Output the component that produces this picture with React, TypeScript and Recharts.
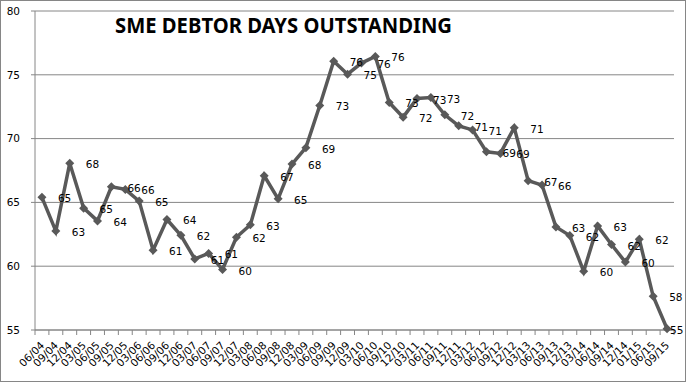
import { LineChart, Line, XAxis, YAxis, CartesianGrid, LabelList } from "recharts";

const quarters = [
  "06/04", "09/04", "12/04",
  "03/05", "06/05", "09/05", "12/05",
  "03/06", "06/06", "09/06", "12/06",
  "03/07", "06/07", "09/07", "12/07",
  "03/08", "06/08", "09/08", "12/08",
  "03/09", "06/09", "09/09", "12/09",
  "03/10", "06/10", "09/10", "12/10",
  "03/11", "06/11", "09/11", "12/11",
  "03/12", "06/12", "09/12", "12/12",
  "03/13", "06/13", "09/13", "12/13",
  "03/14", "06/14", "09/14", "12/14",
  "01/15", "06/15", "09/15",
];

const debtorDays = [
  65.4, 62.75, 68.06, 64.55, 63.55, 66.22, 66.02, 65.1, 61.25, 63.66,
  62.42, 60.57, 61.0, 59.74, 62.27, 63.24, 67.09, 65.28, 68.0, 69.29,
  72.6, 76.07, 75.05, 75.92, 76.44, 72.83, 71.68, 73.14, 73.22, 71.86,
  71.0, 70.68, 68.97, 68.84, 70.86, 66.7, 66.36, 63.08, 62.4, 59.6,
  63.16, 61.7, 60.32, 62.12, 57.64, 55.1,
];

const yTicks = [55, 60, 65, 70, 75, 80];

const data = quarters.map((q, i) => ({ i, q, days: debtorDays[i] }));

const W = 688;
const H = 383;
const margin = { top: 11, right: 14, bottom: 0, left: 0 };
const Y_W = 35;
const X_H = 53;
const band = (W - Y_W - margin.right - margin.left) / quarters.length;

const FONT = "'DejaVu Sans', sans-serif";
const GRID = "#868686";
const LINE = "#595959";

const XTick = ({ x, y, payload }: any) => {
  const i = payload.value;
  const ax = x + 3;
  const ay = y + 16;
  return (
    <g>
      <line x1={x - band / 2} x2={x - band / 2} y1={y} y2={y + 5} stroke={GRID} />
      {i === quarters.length - 1 && (
        <line x1={x + band / 2} x2={x + band / 2} y1={y} y2={y + 5} stroke={GRID} />
      )}
      <text
        x={ax}
        y={ay}
        transform={`rotate(-45, ${ax}, ${ay})`}
        textAnchor="end"
        fontSize={10.5}
        fontFamily={FONT}
        fill="#000"
      >
        {quarters[i]}
      </text>
    </g>
  );
};

const Diamond = ({ cx, cy, index }: any) => {
  const r = 4.5;
  return (
    <polygon
      key={index}
      points={`${cx},${cy - r} ${cx + r},${cy} ${cx},${cy + r} ${cx - r},${cy}`}
      fill={LINE}
    />
  );
};

const ValueLabel = ({ x, y, value }: any) => (
  <text
    x={Math.min(x + 16, 670)}
    y={y + 1}
    dominantBaseline="central"
    fontSize={10.5}
    fontFamily={FONT}
    fill="#000"
  >
    {Math.round(value)}
  </text>
);

export default function App() {
  return (
    <div style={{ position: "absolute", left: 0, top: 0, width: W, height: H, background: "#fff" }}>
      <div
        style={{
          position: "absolute",
          left: 0,
          top: 0,
          width: 686,
          height: 382,
          border: `1px solid ${GRID}`,
          boxSizing: "border-box",
        }}
      />
      <LineChart width={W} height={H} data={data} margin={margin}>
        <CartesianGrid vertical={false} stroke={GRID} />
        <XAxis
          dataKey="i"
          type="number"
          domain={[-0.5, quarters.length - 0.5]}
          ticks={data.map((d) => d.i)}
          interval={0}
          height={X_H}
          tickSize={0}
          tickMargin={0}
          tickLine={false}
          axisLine={{ stroke: GRID }}
          tick={<XTick />}
        />
        <YAxis
          domain={[55, 80]}
          ticks={yTicks}
          width={Y_W}
          tickSize={4}
          tickMargin={11}
          axisLine={{ stroke: GRID }}
          tickLine={{ stroke: GRID }}
          tick={{ fontSize: 10.5, fill: "#000", fontFamily: FONT }}
        />
        <Line
          type="linear"
          dataKey="days"
          stroke={LINE}
          strokeWidth={3.5}
          dot={<Diamond />}
          activeDot={false}
          isAnimationActive={false}
        >
          <LabelList dataKey="days" content={<ValueLabel />} />
        </Line>
      </LineChart>
      <svg
        width={W}
        height={60}
        style={{ position: "absolute", left: 0, top: 0, pointerEvents: "none" }}
      >
        <text
          x={115}
          y={33}
          fontSize={20.5}
          fontWeight="bold"
          fontFamily="'Noto Sans', sans-serif"
          fill="#000"
          textLength={337}
          lengthAdjust="spacingAndGlyphs"
        >
          SME DEBTOR DAYS OUTSTANDING
        </text>
      </svg>
    </div>
  );
}
